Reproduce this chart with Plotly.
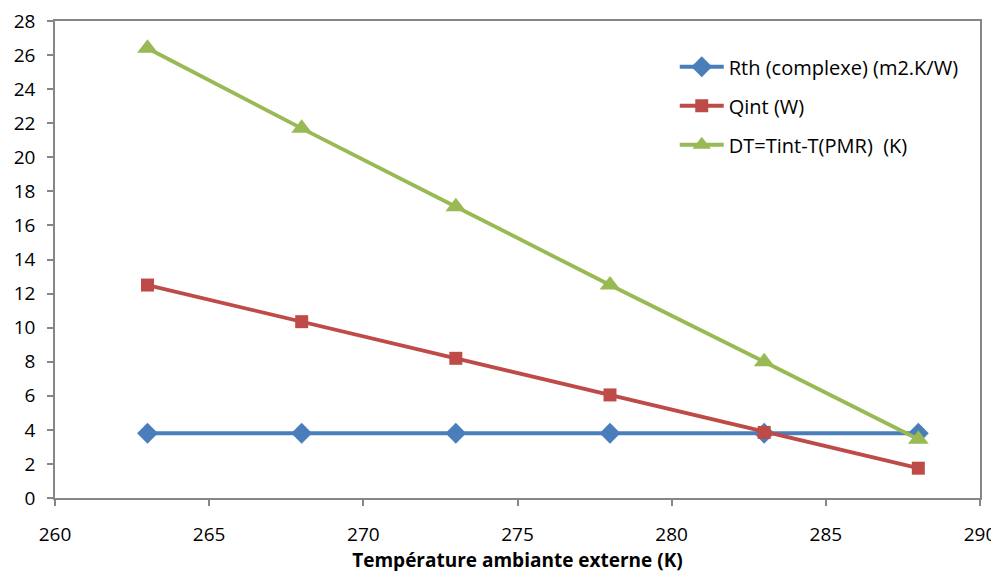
import plotly.graph_objects as go

temps = [263, 268, 273, 278, 283, 288]
rth = [3.8, 3.8, 3.8, 3.8, 3.8, 3.8]
qint = [12.5, 10.35, 8.2, 6.05, 3.85, 1.75]
dt = [26.4, 21.7, 17.1, 12.5, 8.0, 3.45]

names = ["Rth (complexe) (m2.K/W)", "Qint (W)", "DT=Tint-T(PMR)  (K)"]
colors = ["#4A7EBB", "#BE4B48", "#98B954"]
symbols = ["diamond", "square", "triangle-up"]
sizes = [16, 13, 18]

fig = go.Figure()
for i, ys in enumerate([rth, qint, dt]):
    fig.add_trace(go.Scatter(
        x=temps, y=ys, name=names[i], mode="lines+markers",
        line=dict(color=colors[i], width=3.8),
        marker=dict(symbol=symbols[i], size=sizes[i], color=colors[i]),
        legendgroup=str(i),
    ))

axis_common = dict(
    showline=True, linecolor="#868686", linewidth=1.5, mirror=True,
    ticks="outside", tickcolor="#868686", ticklen=6, tickwidth=1.5,
    showgrid=False, zeroline=False, automargin=False,
    ticklabeloverflow="allow",
    tickfont=dict(family="Open Sans", size=19, color="#000000"),
)

fig.update_layout(
    width=999, height=571,
    margin=dict(l=47, r=27, t=13, b=81),
    paper_bgcolor="white", plot_bgcolor="white",
    xaxis=dict(range=[260, 290], dtick=5, tick0=260, ticklabelstandoff=12,
               title=dict(text="<b>Température ambiante externe (K)</b>",
                          font=dict(family="Open Sans", size=19, color="#000"),
                          standoff=4),
               **axis_common),
    yaxis=dict(range=[0, 28], dtick=2, ticklabelstandoff=8, **axis_common),
    legend=dict(x=0.67, y=0.945, xanchor="left", yanchor="top",
                font=dict(family="Open Sans", size=20, color="#000"),
                tracegroupgap=10, bgcolor="rgba(0,0,0,0)", itemwidth=44),
    showlegend=True,
)

fig.write_html("out.html")
